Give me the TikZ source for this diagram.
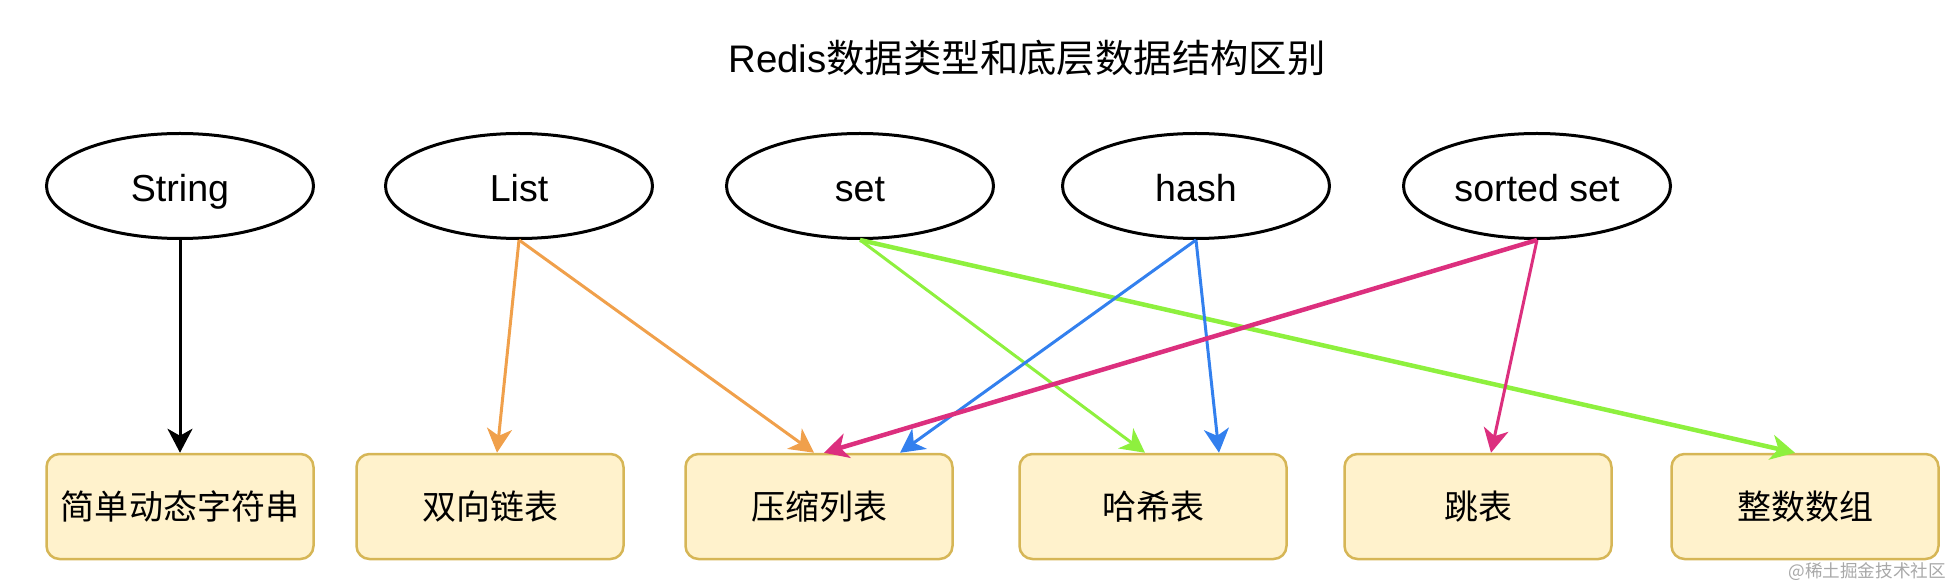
\documentclass[tikz,border=0pt]{standalone}
\usepackage{fontspec}
\setmainfont{Liberation Sans}
\newfontfamily\cjk{Noto Sans CJK SC}
\usetikzlibrary{shapes.geometric,arrows.meta}
\definecolor{boxfill}{HTML}{FFF2CC}
\definecolor{boxline}{HTML}{D6B656}
\definecolor{corange}{HTML}{F0A04B}
\definecolor{cgreen}{HTML}{8EF03E}
\definecolor{cblue}{HTML}{3380EE}
\definecolor{cpink}{HTML}{DC2F7E}
\definecolor{wmgray}{HTML}{A8A8A8}
\begin{document}
\begin{tikzpicture}[x=0.5pt,y=-0.5pt,
  typenode/.style={ellipse, draw=black, line width=1.5pt, minimum width=133.5pt, minimum height=52.5pt, inner sep=0pt, text height=15.6pt, text depth=0pt, font=\fontsize{18.8pt}{22pt}\selectfont},
  structbox/.style={rectangle, rounded corners=6.5pt, draw=boxline, fill=boxfill, line width=1.25pt, minimum width=133.5pt, minimum height=52.5pt, inner sep=0pt, font=\cjk\fontsize{17pt}{20pt}\selectfont},
  link/.style={line width=1.5pt, -{Stealth[length=12pt,width=12.5pt,inset=3.5pt]}},
  thicklink/.style={link, line width=2.25pt}
]
\useasboundingbox (0,0) rectangle (1959,587);

\node[font=\fontsize{19.2pt}{22pt}\selectfont] (title) at (1027,58) {Redis{\cjk 数据类型和底层数据结构区别}};

\node[typenode] (string) at (180,186) {String};
\node[typenode] (list) at (519,186) {List};
\node[typenode] (set) at (860,186) {set};
\node[typenode] (hash) at (1196,186) {hash};
\node[typenode] (zset) at (1537,186) {sorted set};

\node[structbox] (sds) at (180,506.5) {简单动态字符串};
\node[structbox] (dlist) at (490,506.5) {双向链表};
\node[structbox] (ziplist) at (819,506.5) {压缩列表};
\node[structbox] (ht) at (1153,506.5) {哈希表};
\node[structbox] (skip) at (1478,506.5) {跳表};
\node[structbox] (intset) at (1805,506.5) {整数数组};

\node[anchor=east, text=wmgray, font=\cjk\fontsize{8.8pt}{10pt}\selectfont] (wm) at (1953,572) {@稀土掘金技术社区};

\draw[link, black] (string.south) -- (sds.north);
\draw[link, corange] (list.south) -- ([xshift=3.5pt]dlist.north);
\draw[link, corange] (list.south) -- ([xshift=-2.5pt]ziplist.north);
\draw[link, cgreen] (set.south) -- ([xshift=-4pt]ht.north);
\draw[thicklink, cgreen] (set.south) -- ([xshift=-5pt]intset.north);
\draw[link, cblue] (hash.south) -- ([xshift=40.5pt]ziplist.north);
\draw[link, cblue] (hash.south) -- ([xshift=33pt]ht.north);
\draw[thicklink, cpink] (zset.south) -- ([xshift=2.5pt]ziplist.north);
\draw[link, cpink] (zset.south) -- ([xshift=6.5pt]skip.north);
\end{tikzpicture}
\end{document}
